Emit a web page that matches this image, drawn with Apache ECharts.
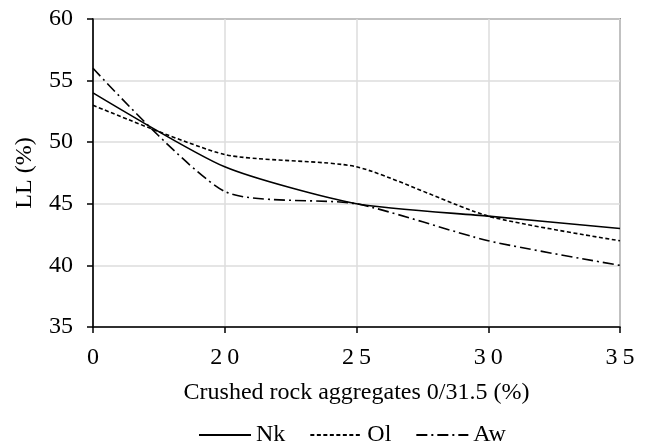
<!DOCTYPE html>
<html>
<head>
<meta charset="utf-8">
<script src="https://cdn.jsdelivr.net/npm/echarts@6/dist/echarts.min.js"></script>
<style>
  html, body { margin: 0; padding: 0; background: #fff; }
  #chart { width: 646px; height: 444px; }
</style>
</head>
<body>
<div id="chart"></div>
<script>
// Crushed rock aggregate content (%) on the x axis
const categories = ['0', '20', '25', '30', '35'];
// Liquid limit LL (%) for each soil
const nk = [54, 48, 45, 44, 43];
const ol = [53, 49, 48, 44, 42];
const aw = [56, 46, 45, 42, 40];
const seriesNames = ['Nk', 'Ol', 'Aw'];

const serif = '"Liberation Serif", "Times New Roman", serif';

const chart = echarts.init(document.getElementById('chart'));

function lineSeries(name, data, type) {
  return {
    name: name,
    type: 'line',
    data: data,
    smooth: 0.22,
    symbol: 'none',
    lineStyle: { color: '#000', width: 1.6, type: type },
    itemStyle: { color: '#000' }
  };
}

chart.setOption({
  animation: false,
  backgroundColor: '#fff',
  grid: { left: 93, right: 26, top: 19, bottom: 117, show: true, borderColor: '#404040', borderWidth: 1.5 },
  legend: {
    top: 418,
    left: 193,
    itemWidth: 52,
    itemHeight: 14,
    itemGap: 24,
    data: seriesNames,
    itemStyle: { opacity: 0 },
    textStyle: { fontFamily: serif, fontSize: 24, color: '#000' }
  },
  xAxis: {
    type: 'category',
    data: categories,
    boundaryGap: false,
    name: 'Crushed rock aggregates 0/31.5 (%)',
    nameLocation: 'middle',
    nameGap: 54,
    nameTextStyle: { fontFamily: serif, fontSize: 24, color: '#000' },
    axisLine: { lineStyle: { color: '#000', width: 1.6 } },
    axisTick: { show: true, length: 6, lineStyle: { color: '#000', width: 1.5 } },
    axisLabel: { fontFamily: serif, fontSize: 24, color: '#000', margin: 19, formatter: v => v.split('').join('\u2009') },
    splitLine: { show: true, lineStyle: { color: '#dcdcdc', width: 1.5 } }
  },
  yAxis: {
    type: 'value',
    min: 35,
    max: 60,
    interval: 5,
    name: 'LL (%)',
    nameLocation: 'middle',
    nameGap: 56,
    nameTextStyle: { fontFamily: serif, fontSize: 24, color: '#000' },
    axisLine: { show: true, lineStyle: { color: '#000', width: 1.6 } },
    axisTick: { show: true, length: 6, lineStyle: { color: '#000', width: 1.5 } },
    axisLabel: { fontFamily: serif, fontSize: 24, color: '#000', margin: 20, padding: [4, 0, 0, 0] },
    splitLine: { show: true, lineStyle: { color: '#dcdcdc', width: 1.5 } }
  },
  series: [
    lineSeries(seriesNames[0], nk, 'solid'),
    lineSeries(seriesNames[1], ol, [4, 2.5]),
    lineSeries(seriesNames[2], aw, [11, 4, 2, 4])
  ]
});
</script>
</body>
</html>
